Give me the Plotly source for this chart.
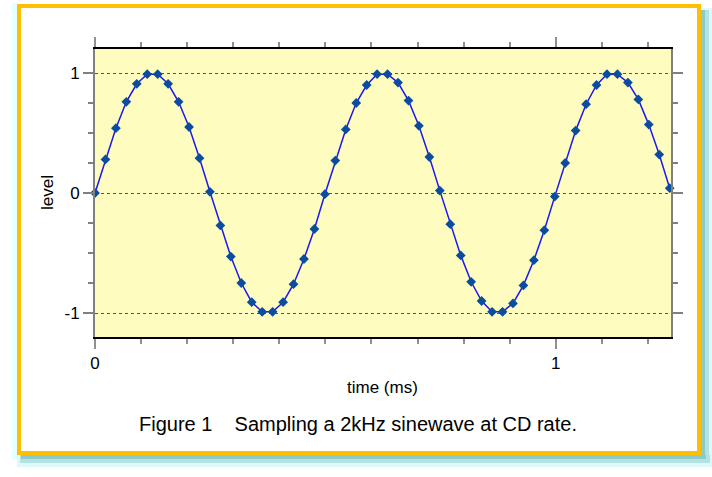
import plotly.graph_objects as go

time_ms = [0.0, 0.0227, 0.0454, 0.0680, 0.0907, 0.1134, 0.1361, 0.1587, 0.1814, 0.2041,
           0.2268, 0.2494, 0.2721, 0.2948, 0.3175, 0.3401, 0.3628, 0.3855, 0.4082, 0.4308,
           0.4535, 0.4762, 0.4989, 0.5215, 0.5442, 0.5669, 0.5896, 0.6122, 0.6349, 0.6576,
           0.6803, 0.7029, 0.7256, 0.7483, 0.7710, 0.7937, 0.8163, 0.8390, 0.8617, 0.8844,
           0.9070, 0.9297, 0.9524, 0.9751, 0.9977, 1.0204, 1.0431, 1.0658, 1.0884, 1.1111,
           1.1338, 1.1565, 1.1791, 1.2018, 1.2245, 1.2472]
level = [0.00, 0.28, 0.54, 0.76, 0.91, 0.99, 0.99, 0.91, 0.76, 0.55,
         0.29, 0.01, -0.27, -0.53, -0.75, -0.91, -0.99, -0.99, -0.91, -0.76,
         -0.55, -0.30, -0.01, 0.27, 0.53, 0.75, 0.90, 0.99, 0.99, 0.92,
         0.77, 0.56, 0.30, 0.02, -0.26, -0.52, -0.74, -0.90, -0.99, -0.99,
         -0.92, -0.77, -0.56, -0.31, -0.03, 0.25, 0.52, 0.74, 0.90, 0.99,
         0.99, 0.92, 0.78, 0.57, 0.32, 0.04]

x_range = [0, 1.25]
y_range = [-1.2, 1.2]
x_tickvals = [0, 1]
x_ticktext = ["0", "1"]
y_tickvals = [-1, 0, 1]
y_ticktext = ["-1", "0", "1"]

FONT = "Liberation Sans, Arial, Helvetica, sans-serif"
W, H = 712, 477
L, T = 95, 49
R = W - 671
B = H - 337
PW, PH = W - L - R, H - T - B


def px(x):
    return (x - L) / PW


def py(y):
    return (H - B - y) / PH


fig = go.Figure()
fig.add_trace(go.Scatter(
    x=time_ms, y=level, mode="lines+markers",
    line=dict(color="#1a1af0", width=1.5),
    marker=dict(symbol="diamond", size=7.5, color="#0a4d9e"),
    hoverinfo="skip", showlegend=False, cliponaxis=False,
))

shapes = []


def rect(x0, y0, x1, y1, fill):
    shapes.append(dict(type="rect", xref="paper", yref="paper",
                       x0=px(x0), x1=px(x1), y0=py(y0), y1=py(y1),
                       fillcolor=fill, line=dict(width=0), layer="below"))


# cyan shadow / glow around the frame
rect(12, 3, 17, 460, "#e6ffff")
rect(17, 455, 712, 467, "#dff8f8")
rect(701, 8, 712, 467, "#dff8f8")
rect(20, 455, 710, 463, "#b4e2e2")
rect(701, 10, 709, 463, "#b4e2e2")
rect(21, 455, 706, 459, "#8ccaca")
rect(701, 10, 705, 459, "#8ccaca")
# orange frame
shapes.append(dict(type="rect", xref="paper", yref="paper",
                   x0=px(19), x1=px(699), y0=py(6), y1=py(453),
                   line=dict(color="#ffbf00", width=4), fillcolor="rgba(0,0,0,0)",
                   layer="below"))

annotations = [
    dict(text="level", x=px(47), y=py(193), xref="paper", yref="paper",
         xanchor="center", yanchor="middle",
         textangle=-90, showarrow=False, font=dict(family=FONT, size=17, color="black")),
    dict(text="time (ms)", x=px(382), y=py(387), xref="paper", yref="paper",
         xanchor="center", yanchor="middle",
         showarrow=False, font=dict(family=FONT, size=17, color="black")),
    dict(text="Figure 1\u00a0\u00a0\u00a0\u00a0Sampling a 2kHz sinewave at CD rate.",
         x=px(358), y=py(424), xref="paper", yref="paper",
         xanchor="center", yanchor="middle",
         showarrow=False, font=dict(family=FONT, size=20, color="black")),
]

fig.update_layout(
    width=W, height=H,
    margin=dict(l=L, r=R, t=T, b=B),
    paper_bgcolor="white",
    plot_bgcolor="#fffcc0",
    font=dict(family=FONT, size=17, color="black"),
    shapes=shapes,
    annotations=annotations,
    xaxis=dict(
        range=x_range, tickmode="array", tickvals=x_tickvals, ticktext=x_ticktext,
        ticks="outside", ticklen=10, tickwidth=1.5, tickcolor="#909090",
        showline=True, linecolor="black", linewidth=1.5, mirror="ticks",
        showgrid=False, zeroline=False,
        minor=dict(dtick=0.1, tick0=0, ticks="outside", ticklen=5, tickwidth=1.5,
                   tickcolor="#909090", showgrid=False),
        tickfont=dict(family=FONT, size=17, color="black"),
    ),
    yaxis=dict(
        range=y_range, tickmode="array", tickvals=y_tickvals, ticktext=y_ticktext,
        ticks="outside", ticklen=10, tickwidth=1.5, tickcolor="#808080",
        showline=True, linecolor="#808080", linewidth=2, mirror="ticks",
        showgrid=True, gridcolor="#555555", gridwidth=1, griddash="dot",
        zeroline=False,
        minor=dict(dtick=0.25, tick0=0, ticks="outside", ticklen=5, tickwidth=1.5,
                   tickcolor="#808080", showgrid=False),
        tickfont=dict(family=FONT, size=17, color="black"),
    ),
)

fig.write_html(
    "out.html",
    config={"displayModeBar": False},
    post_script="document.body.style.margin='0';document.body.style.padding='0';"
                "document.body.style.overflow='hidden';",
)
